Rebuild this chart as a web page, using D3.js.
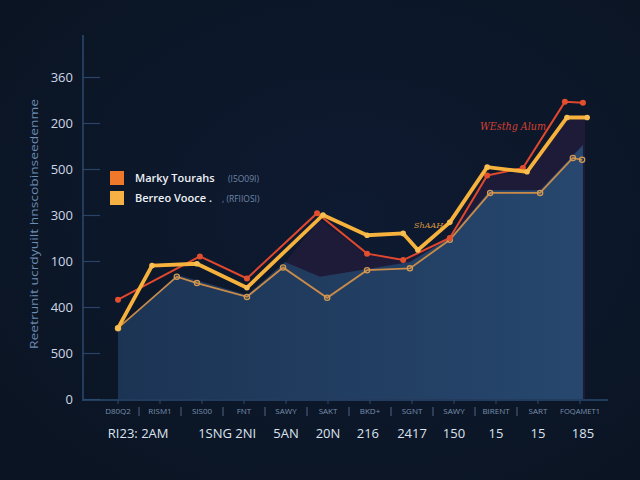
<!DOCTYPE html>
<html><head><meta charset="utf-8">
<script src="https://cdn.jsdelivr.net/npm/d3@7"></script>
<style>html,body{margin:0;padding:0;background:#0c172a;}svg{display:block;}</style>
</head><body>
<script>
// ---- data ----
const categories = ["D80Q2","RISM1","SIS00","FNT","SAWY","SAKT","BKD+","SGNT","SAWY","BIRENT","SART","FOQAMET1"];
const bottomLabels = ["RI23: 2AM","1SNG 2NI","5AN","20N","216","2417","150","15","15","185"];
const bottomLabelPos = [0.48, 2.6, 4.0, 5.0, 5.95, 7.0, 8.0, 9.0, 10.0, 11.07];
const yTickValues = [0,50,100,150,200,250,300,350];
const yTickLabels = ["0","500","400","100","300","500","200","360"];

const redX = [0, 1.95, 3.07, 4.74, 5.93, 6.79, 7.9, 8.79, 9.64, 10.64, 11.07];
const redY = [108, 155, 131, 202, 158, 151, 175, 243, 251, 323, 322];
const yellowX = [0, 0.81, 1.88, 3.07, 4.88, 5.93, 6.79, 7.14, 7.9, 8.79, 9.74, 10.69, 11.17];
const yellowY = [77, 145, 147, 121, 200, 178, 180, 162, 192, 252, 247, 306, 306];
const tanX = [0, 1.4, 1.88, 3.07, 3.93, 4.98, 5.93, 6.95, 7.9, 8.86, 10.05, 10.83, 11.05];
const tanY = [77, 133, 126, 111, 143, 110, 140, 142, 173, 224, 224, 262, 260];
const blueX = [0, 1.4, 1.88, 3.07, 3.98, 4.81, 5.76, 6.95, 7.9, 8.86, 10.05, 11.07];
const blueY = [75, 135, 129, 113, 149, 133, 140, 149, 175, 227, 227, 276];
const darkX = [3.98, 4.81, 5.93, 6.79, 7.9, 8.79, 9.69, 10.64, 11.12];
const darkY = [149, 195, 157, 151, 173, 243, 247, 303, 305];

const seriesNames = ["Marky Tourahs","Berreo Vooce ."];
const seriesNotes = ["(I5O09I)",", (RFIIOSI)"];
const yTitle = "Reetrunit ucrdyuilt hnscobinseedenme";

// ---- chart ----
const W = 640, H = 480;
const svg = d3.select("body").append("svg").attr("width", W).attr("height", H);
const defs = svg.append("defs");
const bg = defs.append("radialGradient").attr("id","bg").attr("cx","55%").attr("cy","45%").attr("r","75%");
bg.append("stop").attr("offset","0%").attr("stop-color","#0e1a31");
bg.append("stop").attr("offset","100%").attr("stop-color","#0a1422");
svg.append("rect").attr("width",W).attr("height",H).attr("fill","url(#bg)");

const x = d3.scaleLinear().domain([0, 11]).range([118, 580]);
const y = d3.scaleLinear().domain([0, 350]).range([399, 77]);

const ag = defs.append("linearGradient").attr("id","ag").attr("x1","0").attr("y1","0").attr("x2","1").attr("y2","0");
ag.append("stop").attr("offset","0%").attr("stop-color","#1c3454");
ag.append("stop").attr("offset","100%").attr("stop-color","#27476e");

const zip = (xs, ys) => xs.map((v,i)=>[v, ys[i]]);

// dark band area
svg.append("path").datum(zip(darkX, darkY))
  .attr("d", d3.area().x(d=>x(d[0])).y0(y(0)).y1(d=>y(d[1])))
  .attr("fill","#1d1b38");
// blue area
svg.append("path").datum(zip(blueX, blueY))
  .attr("d", d3.area().x(d=>x(d[0])).y0(y(0)).y1(d=>y(d[1])))
  .attr("fill","url(#ag)");

// axes
const yAxis = d3.axisRight(y).tickValues(yTickValues).tickFormat((d,i)=>yTickLabels[i]).tickSize(17);
const yg = svg.append("g").attr("transform","translate(83,0)").call(yAxis);
yg.select(".domain").remove();
yg.selectAll(".tick line").attr("stroke","#2b4466").attr("stroke-width",1.2);
yg.selectAll(".tick text").attr("x",-10).attr("text-anchor","end").attr("fill","#cdd7e6")
  .attr("font-family","'Open Sans', sans-serif").attr("font-size",13);
svg.append("line").attr("x1",83).attr("x2",83).attr("y1",35).attr("y2",401).attr("stroke","#2b4a70").attr("stroke-width",1.5);
svg.append("line").attr("x1",83).attr("x2",608).attr("y1",400).attr("y2",400).attr("stroke","#2b4a70").attr("stroke-width",1.5);

const xg = svg.append("g");
categories.forEach((c,i)=>{
  xg.append("line").attr("x1",x(i)).attr("x2",x(i)).attr("y1",400).attr("y2",404).attr("stroke","#2b4a70");
  const t = xg.append("text").attr("x",x(i)).attr("y",414).attr("text-anchor","middle").attr("fill","#7990ad")
    .attr("font-family","'Open Sans', sans-serif").attr("font-size",8).text(c);
  if (c.length > 6) t.attr("textLength",40).attr("lengthAdjust","spacingAndGlyphs");
  if (i < categories.length-2)
    xg.append("text").attr("x",x(i+0.5)).attr("y",414).attr("text-anchor","middle").attr("fill","#7990ad")
      .attr("font-family","'Open Sans', sans-serif").attr("font-size",9).text("|");
});
bottomLabels.forEach((t,i)=>{
  xg.append("text").attr("x",x(bottomLabelPos[i])).attr("y",438).attr("text-anchor","middle").attr("fill","#dbe3ee")
    .attr("font-family","'Open Sans', sans-serif").attr("font-size",13).text(t);
});

// y title
svg.append("text").attr("transform","translate(38,224) rotate(-90)").attr("text-anchor","middle")
  .attr("fill","#6d8cb3").attr("font-family","'Open Sans', sans-serif").attr("font-size",11)
  .attr("textLength",250).attr("lengthAdjust","spacingAndGlyphs").text(yTitle);

const line = d3.line().x(d=>x(d[0])).y(d=>y(d[1]));
// tan line
svg.append("path").datum(zip(tanX, tanY)).attr("d", line).attr("fill","none")
  .attr("stroke","#c98b4a").attr("stroke-width",1.8);
svg.selectAll(".tdot").data(zip(tanX, tanY)).enter().append("circle")
  .attr("cx",d=>x(d[0])).attr("cy",d=>y(d[1])).attr("r",2.6).attr("fill","none").attr("stroke","#d39a55").attr("stroke-width",1.3);
// red line
svg.append("path").datum(zip(redX, redY)).attr("d", line).attr("fill","none")
  .attr("stroke","#e0472f").attr("stroke-width",2);
svg.selectAll(".rdot").data(zip(redX, redY)).enter().append("circle")
  .attr("cx",d=>x(d[0])).attr("cy",d=>y(d[1])).attr("r",3).attr("fill","#e0502f");
// yellow line
svg.append("path").datum(zip(yellowX, yellowY)).attr("d", line).attr("fill","none")
  .attr("stroke","#f6b23c").attr("stroke-width",3.8).attr("stroke-linejoin","round");
svg.selectAll(".ydot").data(zip(yellowX, yellowY)).enter().append("circle")
  .attr("cx",d=>x(d[0])).attr("cy",d=>y(d[1])).attr("r",2.8).attr("fill","#f8be52");

// annotations
svg.append("text").attr("x",480).attr("y",130).attr("fill","#d8412f").attr("font-family","'DejaVu Serif', serif")
  .attr("font-style","italic").attr("font-size",11).attr("textLength",66).attr("lengthAdjust","spacingAndGlyphs").text("WEsthg Alum");
svg.append("text").attr("x",414).attr("y",228).attr("fill","#d7963f").attr("font-family","'DejaVu Serif', serif")
  .attr("font-style","italic").attr("font-size",8).text("ShAAH");

// legend
const legColors = ["#f0782a","#f6b145"];
seriesNames.forEach((n,i)=>{
  const yy = 171 + i*20;
  svg.append("rect").attr("x",110).attr("y",yy).attr("width",14).attr("height",14).attr("fill",legColors[i]);
  svg.append("text").attr("x",135).attr("y",yy+11).attr("fill","#eef2f7").attr("font-family","'Open Sans', sans-serif")
    .attr("font-size",11).attr("font-weight",600).text(n);
  svg.append("text").attr("x",i===0?228:222).attr("y",yy+11).attr("fill","#6f86a6").attr("font-family","'Open Sans', sans-serif")
    .attr("font-size",8.5).text(seriesNotes[i]);
});
</script>
</body></html>
